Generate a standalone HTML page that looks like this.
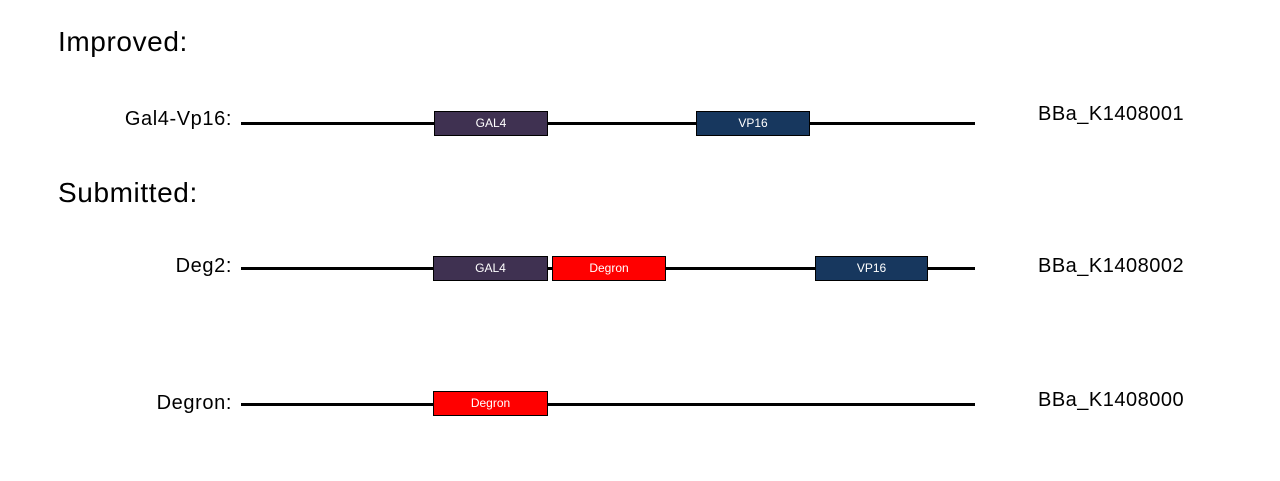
<!DOCTYPE html>
<html><head><style>
body{margin:0;width:1280px;height:481px;background:#fff;position:relative;font-family:"Liberation Sans",sans-serif;overflow:hidden}
.h{position:absolute;left:58px;font-size:28px;color:#000;letter-spacing:0.6px}
.l{position:absolute;right:1048px;font-size:20px;color:#000;text-align:right;letter-spacing:0.6px}
.r{position:absolute;left:1038px;font-size:20px;color:#000;letter-spacing:0.5px}
.line{position:absolute;left:241px;width:734px;height:3px;background:#000}
.b{position:absolute;height:23px;border:1px solid #000;color:#fff;font-size:12px;text-align:center;line-height:23px;box-sizing:content-box}
.g{background:#3f3151}.v{background:#17375e}.d{background:#ff0000}
</style></head><body>
<div class="h" style="top:26px">Improved:</div>
<div class="h" style="top:177px">Submitted:</div>

<div class="l" style="top:108px">Gal4-Vp16:</div>
<div class="line" style="top:122px"></div>
<div class="b g" style="left:434px;top:111px;width:112px">GAL4</div>
<div class="b v" style="left:696px;top:111px;width:112px">VP16</div>
<div class="r" style="top:103px">BBa_K1408001</div>

<div class="l" style="top:255px">Deg2:</div>
<div class="line" style="top:267px"></div>
<div class="b g" style="left:433px;top:256px;width:113px">GAL4</div>
<div class="b d" style="left:552px;top:256px;width:112px">Degron</div>
<div class="b v" style="left:815px;top:256px;width:111px">VP16</div>
<div class="r" style="top:255px">BBa_K1408002</div>

<div class="l" style="top:392px">Degron:</div>
<div class="line" style="top:403px"></div>
<div class="b d" style="left:433px;top:391px;width:113px">Degron</div>
<div class="r" style="top:389px">BBa_K1408000</div>
</body></html>
